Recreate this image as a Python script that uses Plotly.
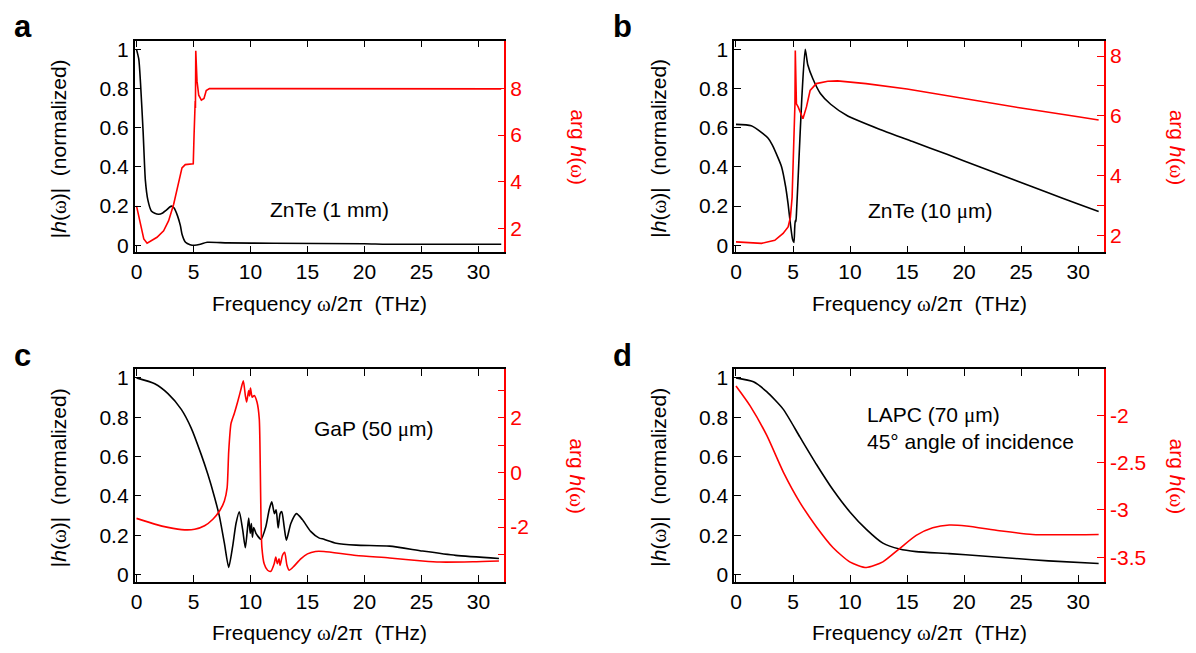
import plotly.graph_objects as go

# ---------------- data ----------------
# panel a : ZnTe (1 mm)
a_f_abs = [0, 0.2, 0.35, 0.58, 0.78, 1.0, 1.3, 1.6, 1.95, 2.3, 2.6, 3.05, 3.3, 3.6, 3.85, 4.0, 4.3, 4.7, 5.1, 5.6, 6.2, 8, 12, 20, 22, 32]
a_abs = [1.0, 0.95, 0.83, 0.58, 0.33, 0.23, 0.175, 0.163, 0.158, 0.165, 0.178, 0.2, 0.19, 0.15, 0.1, 0.055, 0.015, 0.003, 0.0, 0.005, 0.015, 0.012, 0.01, 0.008, 0.005, 0.005]
a_f_arg = [0, 0.35, 0.64, 0.93, 1.37, 1.8, 2.38, 2.82, 3.26, 3.7, 3.99, 4.28, 4.6, 4.98, 5.05, 5.1, 5.15, 5.17, 5.2, 5.25, 5.31, 5.46, 5.69, 5.92, 6.12, 6.4, 10, 20, 32]
a_arg = [2.98, 2.2, 1.57, 1.39, 1.5, 1.64, 1.92, 2.35, 3.05, 4.0, 4.6, 4.74, 4.75, 4.78, 6.0, 7.3, 7.45, 7.15, 9.6, 9.0, 8.3, 7.7, 7.49, 7.56, 7.9, 7.98, 7.98, 7.97, 7.97]

# panel b : ZnTe (10 um)
b_f_abs = [0, 1.34, 2.34, 2.82, 3.18, 3.7, 4.0, 4.35, 4.57, 4.77, 4.96, 5.08, 5.15, 5.2, 5.25, 5.3, 5.5, 5.77, 6.07, 6.3, 6.74, 7.4, 8.3, 9.8, 12.7, 15.6, 18.5, 21.4, 24.3, 27.2, 30, 31.8]
b_abs = [0.617, 0.61, 0.571, 0.546, 0.513, 0.445, 0.4, 0.3, 0.21, 0.109, 0.03, 0.014, 0.09, 0.126, 0.12, 0.16, 0.41, 0.748, 1.0, 0.92, 0.85, 0.775, 0.72, 0.66, 0.59, 0.527, 0.464, 0.40, 0.336, 0.272, 0.21, 0.172]
b_f_arg = [0, 1.0, 2.24, 3.4, 4.13, 4.57, 4.77, 4.92, 5.0, 5.06, 5.1, 5.13, 5.17, 5.2, 5.24, 5.3, 5.45, 5.6, 5.87, 6.18, 6.5, 7.04, 8.05, 8.9, 11.4, 15, 20, 25, 30, 31.8]
b_arg = [1.78, 1.76, 1.73, 1.83, 2.06, 2.28, 2.6, 3.27, 4.3, 5.5, 5.6, 6.4, 6.4, 8.19, 7.0, 6.4, 6.3, 6.15, 5.9, 6.3, 6.85, 7.08, 7.16, 7.17, 7.08, 6.9, 6.58, 6.26, 5.97, 5.86]

# panel c : GaP (50 um)
c_f_abs = [0, 1.6, 2.76, 3.93, 4.8, 5.68, 6.26, 6.84, 7.28, 7.71, 8.09, 8.44, 8.73, 9.02, 9.31, 9.55, 9.84, 9.98, 10.08, 10.17, 10.28, 10.48, 10.92, 11.35, 11.64, 11.87, 12.1, 12.25, 12.43, 12.6, 12.75, 12.95, 13.15, 13.54, 14.03, 14.55, 15.28, 16.0, 16.45, 17.52, 19.27, 22.2, 25.1, 28.0, 31.8]
c_abs = [1.0, 0.97, 0.92, 0.84, 0.745, 0.61, 0.51, 0.395, 0.295, 0.16, 0.037, 0.145, 0.26, 0.32, 0.23, 0.137, 0.287, 0.21, 0.26, 0.19, 0.24, 0.21, 0.18, 0.245, 0.33, 0.37, 0.31, 0.33, 0.237, 0.31, 0.32, 0.245, 0.175, 0.26, 0.31, 0.28, 0.22, 0.187, 0.18, 0.16, 0.15, 0.145, 0.12, 0.098, 0.082]
c_f_arg = [0, 1.6, 2.76, 4.22, 5.1, 5.97, 6.7, 7.28, 7.71, 7.95, 8.09, 8.29, 8.58, 8.87, 9.17, 9.37, 9.55, 9.66, 9.84, 9.92, 10.0, 10.15, 10.33, 10.57, 10.77, 10.86, 10.92, 11.0, 11.2, 11.5, 11.78, 12.08, 12.22, 12.36, 12.5, 12.6, 12.8, 13.0, 13.2, 13.39, 13.82, 14.41, 15.0, 15.7, 16.45, 19.27, 22.2, 25.1, 26.6, 29.5, 31.8]
c_arg = [-1.68, -1.89, -2.01, -2.1, -2.08, -1.95, -1.71, -1.41, -1.04, -0.56, 0.77, 1.79, 2.16, 2.58, 3.06, 3.36, 2.82, 2.58, 3.0, 2.8, 3.09, 2.76, 2.82, 2.58, 1.97, 0.16, -1.65, -2.74, -3.34, -3.58, -3.62, -3.34, -3.1, -3.34, -3.16, -3.4, -3.04, -2.92, -3.4, -3.58, -3.43, -3.16, -2.98, -2.89, -2.89, -3.04, -3.13, -3.24, -3.28, -3.27, -3.24]

# panel d : LAPC (70 um)
d_f_abs = [0, 1.53, 2.69, 4.15, 5.6, 7.06, 8.52, 9.97, 11.43, 12.88, 14.34, 15.8, 18.7, 21.6, 24.5, 27.4, 31.8]
d_abs = [1.0, 0.98, 0.93, 0.84, 0.70, 0.56, 0.43, 0.32, 0.23, 0.16, 0.13, 0.117, 0.107, 0.095, 0.082, 0.07, 0.057]
d_f_arg = [0, 1.24, 2.69, 4.15, 5.6, 7.06, 8.52, 9.97, 11.43, 12.88, 14.34, 15.8, 17.25, 18.7, 20.2, 23.1, 26.0, 31.8]
d_arg = [-1.69, -1.9, -2.21, -2.6, -2.92, -3.18, -3.4, -3.55, -3.61, -3.55, -3.41, -3.27, -3.19, -3.16, -3.17, -3.22, -3.26, -3.26]

x_ticks = [0, 5, 10, 15, 20, 25, 30]
abs_ticks = [0, 0.2, 0.4, 0.6, 0.8, 1]
abs_ticktext = ["0", "0.2", "0.4", "0.6", "0.8", "1"]
arg_ticks = {
    "a": ([2, 4, 6, 8], ["2", "4", "6", "8"]),
    "b": ([2, 3, 4, 5, 6, 7, 8], ["2", "", "4", "", "6", "", "8"]),
    "c": ([-3, -2, -1, 0, 1, 2, 3], ["", "-2", "", "0", "", "2", ""]),
    "d": ([-3.5, -3, -2.5, -2], ["-3.5", "-3", "-2.5", "-2"]),
}
arg_ranges = {"a": [1.0, 10.03], "b": [1.43, 8.52], "c": [-4.0, 3.79], "d": [-3.76, -1.51]}

SER = "<span style='font-family:Liberation Serif, Times New Roman, serif'>{}</span>"
OMEGA = SER.format("\u03c9")
MU = SER.format("\u03bc")
labels = {"a": "ZnTe (1 mm)", "b": f"ZnTe (10 {MU}m)", "c": f"GaP (50 {MU}m)",
          "d": f"LAPC (70 {MU}m)<br>45\u00b0 angle of incidence"}
# line shapes: (arg, abs)
shapes = {"a": ("linear", "spline"), "b": ("linear", "spline"),
          "c": ("spline", "spline"), "d": ("spline", "spline")}

# ---------------- layout ----------------
W, H = 1196, 653
FONT = "Liberation Sans, Arial, sans-serif"
FS = 21
xdom = {"a": (131, 502), "b": (732.5, 1103.7), "c": (131, 502), "d": (732.5, 1103.7)}
ydom = {"a": (38, 252), "b": (38, 252), "c": (370, 585), "d": (370, 585)}

def px(x):
    return x / W

def py(y):
    return 1 - y / H

panels = [
    ("a", a_f_abs, a_abs, a_f_arg, a_arg),
    ("b", b_f_abs, b_abs, b_f_arg, b_arg),
    ("c", c_f_abs, c_abs, c_f_arg, c_arg),
    ("d", d_f_abs, d_abs, d_f_arg, d_arg),
]

fig = go.Figure()
layout = dict(width=W, height=H, margin=dict(l=0, r=0, t=0, b=0),
              paper_bgcolor="white", plot_bgcolor="white", showlegend=False,
              font=dict(family=FONT, size=FS, color="black"))
annotations = []

for i, (key, fa, va, fg, vg) in enumerate(panels):
    xn = i + 1
    yl = 2 * i + 1
    yr = 2 * i + 2
    xname = "x" if xn == 1 else f"x{xn}"
    ylname = "y" if yl == 1 else f"y{yl}"
    yrname = f"y{yr}"
    sh_arg, sh_abs = shapes[key]
    fig.add_trace(go.Scatter(x=fg, y=vg, mode="lines",
                             line=dict(color="red", width=1.6, shape=sh_arg, smoothing=0.6),
                             xaxis=xname, yaxis=yrname))
    fig.add_trace(go.Scatter(x=fa, y=va, mode="lines",
                             line=dict(color="black", width=1.6, shape=sh_abs, smoothing=0.6),
                             xaxis=xname, yaxis=ylname))
    x0, x1 = xdom[key]
    y0, y1 = ydom[key]
    layout["xaxis" if xn == 1 else f"xaxis{xn}"] = dict(
        domain=[px(x0), px(x1)], anchor=ylname, range=[-0.17, 32.27],
        tickvals=x_ticks, ticks="inside", ticklen=7, tickwidth=1.3, tickcolor="black",
        showline=True, linecolor="black", linewidth=1.5, mirror="ticks",
        showgrid=False, zeroline=False, tickfont=dict(size=FS, family=FONT))
    layout["yaxis" if yl == 1 else f"yaxis{yl}"] = dict(
        domain=[py(y1), py(y0)], anchor=xname, range=[-0.036, 1.045],
        tickvals=abs_ticks, ticktext=abs_ticktext, ticks="inside", ticklen=7, tickwidth=1.3,
        tickcolor="black", showline=True, linecolor="black", linewidth=1.5,
        showgrid=False, zeroline=False, tickfont=dict(size=FS, family=FONT))
    tv, tt = arg_ticks[key]
    layout[f"yaxis{yr}"] = dict(
        domain=[py(y1), py(y0)], anchor=xname, overlaying=ylname, side="right",
        range=arg_ranges[key], tickvals=tv, ticktext=tt, ticks="inside", ticklen=7,
        tickwidth=1.3, tickcolor="red", showline=True, linecolor="red", linewidth=1.5,
        showgrid=False, zeroline=False, tickfont=dict(size=FS, family=FONT, color="red"))

    cx = (x0 + x1) / 2
    cy = (y0 + y1) / 2
    # axis titles
    annotations.append(dict(xref="paper", yref="paper", x=px(x0 - 75), y=py(cy + 2),
                            text=f"|<i>h</i>({OMEGA})|\u00a0\u00a0(normalized)", textangle=-90,
                            showarrow=False, xanchor="center", yanchor="middle",
                            font=dict(size=FS, family=FONT)))
    annotations.append(dict(xref="paper", yref="paper", x=px(x1 + 73), y=py(cy + 1),
                            text=f"arg <i>h</i>({OMEGA})", textangle=90,
                            showarrow=False, xanchor="center", yanchor="middle",
                            font=dict(size=FS, family=FONT, color="red")))
    annotations.append(dict(xref="paper", yref="paper", x=px(cx), y=py(y1 + 52),
                            text=f"Frequency {OMEGA}/2\u03c0\u00a0\u00a0(THz)",
                            showarrow=False, xanchor="center", yanchor="middle",
                            font=dict(size=FS, family=FONT)))
    # panel letter
    annotations.append(dict(xref="paper", yref="paper", x=px(x0 - 112), y=py(y0 - 14),
                            text=f"<b>{key}</b>", showarrow=False,
                            xanchor="center", yanchor="middle",
                            font=dict(size=31, family=FONT)))

# sample labels
annotations.append(dict(xref="paper", yref="paper", x=px(327), y=py(209), text=labels["a"],
                        showarrow=False, xanchor="center", yanchor="middle", font=dict(size=FS, family=FONT)))
annotations.append(dict(xref="paper", yref="paper", x=px(929), y=py(210), text=labels["b"],
                        showarrow=False, xanchor="center", yanchor="middle", font=dict(size=FS, family=FONT)))
annotations.append(dict(xref="paper", yref="paper", x=px(371), y=py(431), text=labels["c"],
                        showarrow=False, xanchor="center", yanchor="middle", font=dict(size=FS, family=FONT)))
annotations.append(dict(xref="paper", yref="paper", x=px(864), y=py(430), text=labels["d"],
                        showarrow=False, xanchor="left", yanchor="middle", align="left",
                        font=dict(size=FS, family=FONT)))

layout["annotations"] = annotations
fig.update_layout(**layout)
fig.write_html("out.html", config={"displayModeBar": False},
               post_script="document.body.style.margin='0';document.body.style.overflow='hidden';")
